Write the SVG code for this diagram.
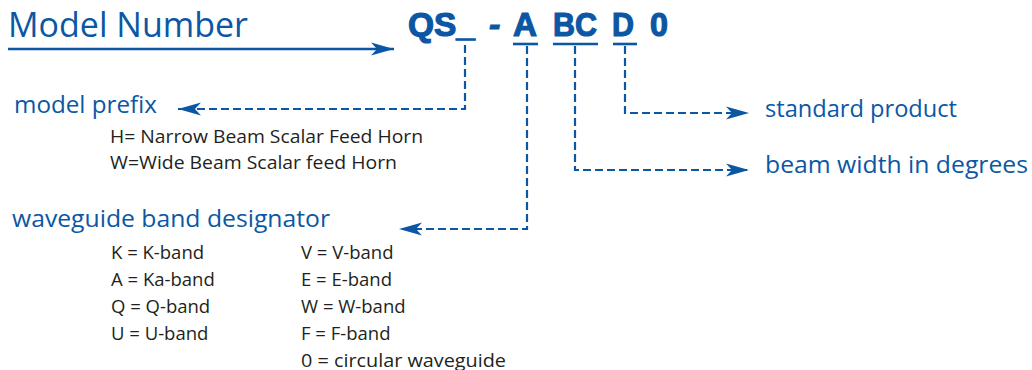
<svg xmlns="http://www.w3.org/2000/svg" width="1032" height="370" viewBox="0 0 1032 370">
<style>
.blue{fill:#0b57a4;font-family:"Open Sans","Liberation Sans",sans-serif}
.code{fill:#0b57a4;stroke:#0b57a4;stroke-width:1.2;font-family:"Liberation Sans","Open Sans",sans-serif;font-weight:bold;font-size:34px}
.blk{fill:#231f20;font-family:"Open Sans","Liberation Sans",sans-serif;font-size:18.5px}
.dash{fill:none;stroke:#0b57a4;stroke-width:2.2;stroke-dasharray:8 4}
.solid{fill:none;stroke:#0b57a4;stroke-width:2.6}
</style>
<defs>
<marker id="ah" markerUnits="userSpaceOnUse" markerWidth="26" markerHeight="16" viewBox="-24 -8 26 16" refX="0" refY="0" orient="auto">
<path d="M0,0 L-23,-6.5 L-17,0 L-23,6.5 Z" fill="#0b57a4"/>
</marker>
</defs>
<g id="title">
<text class="blue" x="8" y="37" font-size="35" textLength="240" lengthAdjust="spacingAndGlyphs">Model Number</text>
</g>
<g id="code">
<text class="code" x="408" y="36" textLength="67" lengthAdjust="spacingAndGlyphs">QS_</text>
<text class="code" x="489" y="36" font-style="italic">-</text>
<text class="code" x="513" y="36" textLength="24" lengthAdjust="spacingAndGlyphs">A</text>
<text class="code" x="553" y="36" textLength="44" lengthAdjust="spacingAndGlyphs">BC</text>
<text class="code" x="612" y="36" textLength="22" lengthAdjust="spacingAndGlyphs">D</text>
<text class="code" x="650" y="36" textLength="18" lengthAdjust="spacingAndGlyphs">0</text>
</g>
<g id="model-prefix">
<text class="blue" x="14" y="113" font-size="23.5" textLength="143" lengthAdjust="spacingAndGlyphs">model prefix</text>
<text class="blk" x="110" y="143" textLength="313" lengthAdjust="spacingAndGlyphs">H= Narrow Beam Scalar Feed Horn</text>
<text class="blk" x="110" y="169" textLength="287" lengthAdjust="spacingAndGlyphs">W=Wide Beam Scalar feed Horn</text>
</g>
<g id="band-designator">
<text class="blue" x="12" y="227" font-size="23.5" textLength="318" lengthAdjust="spacingAndGlyphs">waveguide band designator</text>
<text class="blk" x="111" y="259">K = K-band</text>
<text class="blk" x="111" y="286">A = Ka-band</text>
<text class="blk" x="111" y="313">Q = Q-band</text>
<text class="blk" x="111" y="340">U = U-band</text>
<text class="blk" x="301" y="259">V = V-band</text>
<text class="blk" x="301" y="286">E = E-band</text>
<text class="blk" x="301" y="313">W = W-band</text>
<text class="blk" x="301" y="340">F = F-band</text>
<text class="blk" x="301" y="367" textLength="205" lengthAdjust="spacingAndGlyphs">0 = circular waveguide</text>
</g>
<g id="standard-product">
<text class="blue" x="765" y="117" font-size="23.5" textLength="192" lengthAdjust="spacingAndGlyphs">standard product</text>
</g>
<g id="beam-width">
<text class="blue" x="765" y="173" font-size="23.5" textLength="263" lengthAdjust="spacingAndGlyphs">beam width in degrees</text>
</g>
<g id="connectors">
<line class="solid" x1="8" y1="49" x2="394" y2="49" marker-end="url(#ah)"/>
<line class="solid" x1="513" y1="44" x2="538" y2="44"/>
<line class="solid" x1="553" y1="44" x2="598" y2="44"/>
<line class="solid" x1="613" y1="44" x2="637" y2="44"/>
<path class="dash" d="M465,45 V109 H178" marker-end="url(#ah)"/>
<path class="dash" d="M527,46 V229 H399" marker-end="url(#ah)"/>
<path class="dash" d="M575,46 V170 H749" marker-end="url(#ah)"/>
<path class="dash" d="M625,46 V113 H749" marker-end="url(#ah)"/>
</g>
</svg>
